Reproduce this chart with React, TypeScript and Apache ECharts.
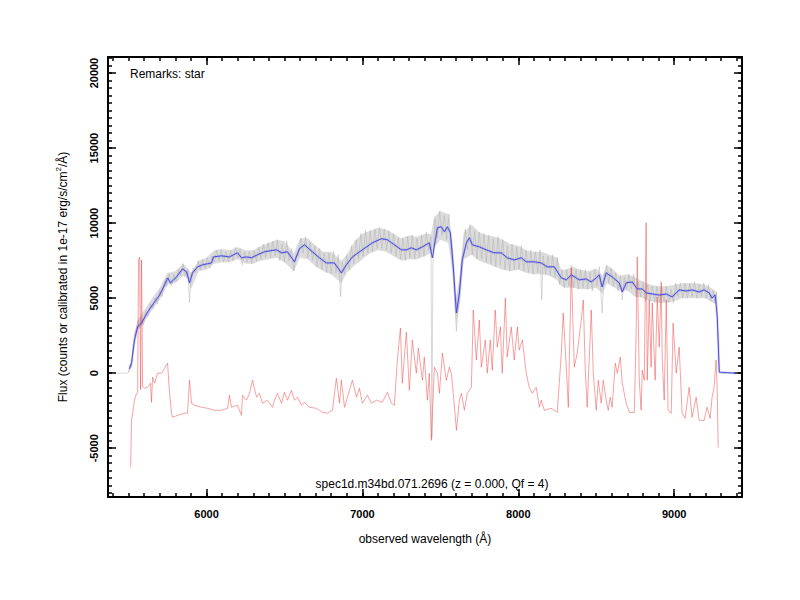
import React, { useEffect, useRef } from "react";
import * as echarts from "echarts";

const FONT = "'Liberation Sans', Arial, Helvetica, sans-serif";

const X_MIN = 5368;
const X_MAX = 9435;
const Y_MIN = -8250;
const Y_MAX = 21070;

const X_MAJOR = [6000, 7000, 8000, 9000];
const Y_MAJOR = [-5000, 0, 5000, 10000, 15000, 20000];
const X_MINOR_STEP = 100;
const Y_MINOR_STEP = 500;

const TITLE_TEXT = "spec1d.m34bd.071.2696 (z = 0.000, Qf = 4)";
const REMARK_TEXT = "Remarks: star";
const X_NAME = "observed wavelength (Å)";
const Y_NAME = "Flux (counts or calibrated in 1e-17 erg/s/cm{sup|2}/{ang|Å})";

// raw spectrum (gray, noisy)
const RAW_SPECTRUM: [number, number][] = [
  [5420,0],[5495,0],[5502,150],[5510,600],[5520,450],[5530,1900],[5540,2700],[5550,2900],[5560,3500],[5570,3000],
  [5580,3700],[5595,3200],[5610,4100],[5625,3800],[5640,4600],[5655,4300],[5670,5000],[5685,4600],[5700,5500],[5715,5100],
  [5730,6100],[5745,5800],[5760,6600],[5775,5800],[5790,6600],[5805,6100],[5820,6900],[5835,6500],[5850,7300],[5865,6500],
  [5880,6900],[5891,4700],[5900,6300],[5915,7000],[5930,6700],[5945,7500],[5960,6900],[5975,7600],[5990,7000],[6005,7700],
  [6020,7000],[6035,7800],[6050,7400],[6065,8200],[6080,7500],[6095,8200],[6110,7400],[6125,8100],[6140,7400],[6155,8200],
  [6170,7500],[6185,8400],[6200,7700],[6215,8300],[6230,7200],[6245,8100],[6260,7400],[6275,8100],[6290,7300],[6305,8200],
  [6320,7500],[6335,8400],[6350,7600],[6365,8600],[6380,7700],[6395,8700],[6410,7700],[6425,8800],[6440,7800],[6455,8900],
  [6470,7500],[6485,8600],[6500,7400],[6515,8800],[6530,7500],[6545,8300],[6560,6800],[6575,7900],[6590,7800],[6605,9000],
  [6620,8000],[6635,9100],[6650,7700],[6665,8700],[6680,7500],[6695,8500],[6710,7100],[6725,8300],[6740,6900],[6755,8000],
  [6770,6700],[6785,8000],[6800,6600],[6815,8100],[6830,6700],[6845,7900],[6860,5100],[6870,7400],[6885,6600],[6900,7900],
  [6915,6900],[6930,8500],[6945,7300],[6960,8900],[6975,7600],[6990,9300],[7005,7800],[7020,9500],[7035,8000],[7050,9500],
  [7065,8100],[7080,9600],[7095,8300],[7110,9700],[7125,8300],[7140,9600],[7155,8200],[7170,9500],[7185,8000],[7200,9300],
  [7215,7800],[7230,9000],[7245,7600],[7260,9000],[7275,7500],[7290,9100],[7305,7700],[7320,9200],[7335,7600],[7350,9000],
  [7365,7700],[7380,9200],[7395,7800],[7410,9400],[7425,8200],[7440,9100],[7446,-4300],[7452,7000],[7465,10300],[7480,9000],
  [7495,10800],[7510,9200],[7525,10500],[7540,8900],[7555,10600],[7570,8700],[7583,7000],[7595,4500],[7603,2800],[7612,4200],
  [7622,5000],[7632,7200],[7645,8200],[7660,9600],[7675,8200],[7690,9900],[7705,7900],[7720,9500],[7735,7600],[7750,9400],
  [7765,7600],[7780,9300],[7795,7400],[7810,9200],[7825,7300],[7840,9000],[7855,7100],[7870,9100],[7885,7200],[7900,8900],
  [7915,6900],[7930,8500],[7945,6800],[7960,8600],[7975,6900],[7990,8400],[8005,6900],[8020,8500],[8035,6800],[8050,8200],
  [8065,6700],[8080,8200],[8095,6600],[8110,8100],[8125,6700],[8140,8200],[8150,4900],[8160,7800],[8175,6600],[8190,7800],
  [8205,6500],[8220,7900],[8235,6400],[8250,7700],[8265,5900],[8280,6900],[8295,5700],[8310,6900],[8325,5800],[8340,7200],
  [8355,5700],[8370,6900],[8385,5600],[8400,6900],[8415,5700],[8430,6900],[8445,5600],[8460,6700],[8475,5500],[8490,6900],
  [8505,5800],[8520,7100],[8538,4000],[8550,6500],[8565,7200],[8580,6000],[8595,7000],[8610,5800],[8625,6700],[8640,5500],
  [8655,6500],[8667,4880],[8680,6400],[8695,5600],[8710,6600],[8725,5600],[8740,6600],[8755,5100],[8770,6100],[8785,5100],
  [8800,6100],[8815,4800],[8830,5900],[8845,4800],[8860,5800],[8875,4700],[8890,5800],[8905,4700],[8920,5800],[8935,4800],
  [8950,5800],[8965,4700],[8980,5600],[8995,4700],[9010,6000],[9025,5100],[9040,6000],[9055,5000],[9070,6000],[9085,5000],
  [9100,6000],[9115,5100],[9130,6100],[9145,5000],[9160,5900],[9175,5100],[9190,6000],[9205,5000],[9220,5900],[9235,4800],
  [9250,5500],[9262,4700],[9272,5400],[9280,2500],[9289,100],[9300,0],[9400,0]
];

// envelope of the raw spectrum noise: [wavelength, low, high]
const RAW_ENVELOPE: [number, number, number][] = [
  [5500,0,300],[5520,400,900],[5540,2000,2800],[5560,2900,3600],[5600,3400,4200],[5650,4200,5000],[5700,4900,5700],
  [5750,5900,6700],[5800,6000,6800],[5850,6500,7300],[5880,6300,7000],[5900,5600,6700],[5950,6800,7500],[6000,6900,7700],
  [6050,7300,8200],[6100,7400,8300],[6150,7400,8200],[6200,7600,8400],[6250,7300,8200],[6300,7300,8200],[6350,7500,8500],
  [6400,7600,8700],[6450,7700,8900],[6500,7400,8800],[6560,6800,8000],[6600,7700,9000],[6650,7600,9000],[6700,7100,8500],
  [6750,6800,8100],[6800,6600,8100],[6865,6000,7500],[6900,6700,7900],[6950,7200,8800],[7000,7600,9300],[7050,8000,9500],
  [7100,8200,9700],[7150,8100,9600],[7200,7800,9300],[7250,7500,9000],[7300,7600,9200],[7350,7600,9100],[7400,7800,9300],
  [7440,8000,9300],[7460,8400,10400],[7500,8900,10800],[7550,8700,10600],[7580,6500,8500],[7600,3300,5000],[7625,4500,6500],
  [7650,7600,9400],[7700,7900,9900],[7750,7500,9400],[7800,7300,9200],[7850,7100,9100],[7900,6900,8900],[7950,6800,8600],
  [8000,6900,8500],[8050,6700,8200],[8100,6600,8100],[8150,6600,8100],[8200,6500,7900],[8250,6200,7700],[8275,5800,6900],
  [8300,5700,6900],[8350,5700,7100],[8400,5600,6900],[8450,5600,6800],[8500,5700,7000],[8540,5300,6500],[8570,6000,7200],
  [8600,5800,7000],[8650,5500,6500],[8700,5500,6600],[8750,5100,6400],[8800,5000,6100],[8850,4800,5900],[8900,4700,5800],
  [8950,4700,5800],[9000,4800,5900],[9050,5000,6000],[9100,5000,6000],[9150,5000,6000],[9200,5000,5900],[9250,4700,5600],
  [9272,4600,5400],[9282,2000,2600],[9290,0,100]
];

// smoothed spectrum (blue)
const SMOOTH_SPECTRUM: [number, number][] = [
  [5506,300],[5519,700],[5538,2200],[5558,3100],[5583,3340],[5622,4080],[5667,4750],[5699,5210],[5731,5880],[5750,6350],
  [5769,6020],[5808,6420],[5846,6950],[5872,6750],[5891,6020],[5910,6680],[5942,7085],[5974,7220],[6006,7290],[6032,7350],
  [6045,7750],[6096,7820],[6147,7750],[6173,7890],[6199,8020],[6224,7690],[6256,7750],[6288,7690],[6327,7890],[6372,8090],
  [6404,8150],[6449,8220],[6481,8020],[6519,8090],[6564,7420],[6596,8290],[6628,8555],[6679,8090],[6724,7690],[6769,7350],
  [6820,7350],[6865,6680],[6897,7220],[6936,7750],[7000,8220],[7064,8690],[7122,8960],[7160,8890],[7205,8555],[7250,8220],
  [7282,8220],[7314,8355],[7346,8220],[7385,8420],[7429,8690],[7449,7690],[7481,9690],[7506,9760],[7526,9420],[7545,9760],
  [7564,9360],[7583,7085],[7603,4010],[7622,5350],[7641,7550],[7667,8690],[7686,9020],[7705,8555],[7750,8420],[7795,8220],
  [7846,8020],[7891,8020],[7929,7690],[7974,7550],[8019,7690],[8051,7420],[8102,7420],[8147,7350],[8186,7085],[8231,7085],
  [8276,6350],[8308,6220],[8340,6550],[8372,6350],[8391,6220],[8436,6280],[8468,6080],[8500,6350],[8519,6550],[8538,5750],
  [8564,6680],[8602,6420],[8647,6020],[8667,5410],[8692,6020],[8731,6080],[8763,5615],[8795,5615],[8820,5350],[8859,5280],
  [8904,5210],[8949,5280],[8987,5080],[9032,5550],[9077,5480],[9115,5550],[9160,5410],[9192,5550],[9224,5350],[9243,5010],
  [9263,5210],[9276,3740],[9282,2200],[9289,70],[9397,0]
];

// sky spectrum (red)
const SKY_SPECTRUM: [number, number][] = [
  [5513,-6280],[5519,-3140],[5526,-2670],[5538,-1800],[5551,-1340],[5558,-1270],[5564,7550],[5571,7750],[5577,-1100],[5583,7550],
  [5590,-900],[5603,-1000],[5622,-940],[5641,-670],[5647,-1940],[5654,-270],[5667,-670],[5686,0],[5712,0],[5731,330],
  [5750,670],[5763,-1340],[5776,-2670],[5782,-2940],[5814,-2810],[5859,-2670],[5878,-2670],[5891,-470],[5904,-2000],[5923,-2140],
  [5968,-2270],[6006,-2340],[6051,-2470],[6096,-2470],[6135,-2340],[6147,-1470],[6160,-2270],[6199,-2140],[6224,-2810],[6231,-1470],
  [6256,-1800],[6276,-1340],[6295,-470],[6321,-1600],[6340,-1340],[6359,-2000],[6391,-1800],[6423,-2270],[6436,-1800],[6455,-1340],
  [6481,-2000],[6500,-1270],[6519,-1800],[6545,-1140],[6564,-1800],[6583,-1600],[6609,-2140],[6628,-1940],[6660,-2270],[6705,-2340],
  [6744,-2610],[6776,-2670],[6808,-2470],[6833,-330],[6853,-2000],[6865,-470],[6885,-2270],[6917,-1140],[6936,-470],[6962,-1600],
  [6981,-1000],[7000,-2000],[7032,-1470],[7058,-2000],[7090,-1800],[7128,-1940],[7160,-1270],[7186,-2000],[7205,-2140],[7224,870],
  [7244,3010],[7256,-670],[7282,2740],[7301,-1140],[7320,2210],[7346,0],[7359,1670],[7385,-470],[7397,1070],[7417,-1800],
  [7429,0],[7442,-4480],[7462,400],[7481,0],[7494,-1340],[7513,1340],[7538,-470],[7558,400],[7570,0],[7583,-1340],
  [7603,-3810],[7622,-1800],[7635,-1340],[7654,-2470],[7673,-1340],[7699,-940],[7711,4210],[7731,870],[7750,3540],[7763,400],
  [7788,2210],[7801,0],[7820,2210],[7833,200],[7852,4210],[7865,1740],[7885,3080],[7897,0],[7917,5010],[7929,1070],
  [7955,3080],[7974,870],[7994,3080],[8006,1540],[8026,2210],[8051,0],[8070,-940],[8090,-1340],[8115,-940],[8135,-2270],
  [8147,-1800],[8167,-2470],[8211,-2340],[8250,-2610],[8276,1340],[8288,4010],[8308,400],[8321,-2270],[8340,7020],[8359,400],
  [8378,1340],[8404,3540],[8417,4880],[8429,400],[8442,-2270],[8468,4210],[8481,0],[8500,-2470],[8513,-470],[8532,-2000],
  [8545,-470],[8564,-1800],[8577,-2470],[8590,-1600],[8602,-2270],[8622,670],[8635,0],[8654,1070],[8667,-670],[8692,-2000],
  [8712,-2610],[8744,-2610],[8756,2670],[8763,7750],[8776,-470],[8788,-2470],[8795,200],[8808,-470],[8820,10030],[8827,-470],
  [8840,4880],[8852,400],[8859,4680],[8878,-470],[8891,5080],[8904,1740],[8917,6080],[8923,1070],[8936,-1800],[8949,4880],
  [8961,-2470],[8981,-2670],[8993,3340],[9013,0],[9032,1740],[9051,-2670],[9070,-3010],[9096,-940],[9115,-2940],[9141,-1600],
  [9160,-3140],[9192,-3140],[9211,-2270],[9231,-3010],[9243,-1600],[9256,-940],[9269,870],[9276,-1140],[9282,-4950]
];

function steps(from: number, to: number, step: number): number[] {
  const out: number[] = [];
  for (let v = from; v <= to; v += step) out.push(v);
  return out;
}

const X_MINOR = steps(5400, 9400, X_MINOR_STEP);
const Y_MINOR = steps(-8000, 21000, Y_MINOR_STEP);

const labelStyle = { fontFamily: FONT, fontSize: 11, fontWeight: "bold" as const, color: "#000" };

function xAxisDef(position: "top" | "bottom", major: boolean, extra: any = {}) {
  return {
    type: "value",
    position,
    min: X_MIN,
    max: X_MAX,
    splitLine: { show: false },
    axisLine: { show: major, onZero: false, lineStyle: { color: "#000", width: 2 } },
    axisTick: {
      show: true,
      inside: true,
      length: major ? 8 : 4,
      customValues: major ? X_MAJOR : X_MINOR,
      lineStyle: { color: "#000", width: 1.5 },
    },
    axisLabel: { show: false },
    ...extra,
  };
}

function yAxisDef(position: "left" | "right", major: boolean, extra: any = {}) {
  return {
    type: "value",
    position,
    min: Y_MIN,
    max: Y_MAX,
    splitLine: { show: false },
    axisLine: { show: major, onZero: false, lineStyle: { color: "#000", width: 2 } },
    axisTick: {
      show: true,
      inside: true,
      length: major ? 8 : 4,
      customValues: major ? Y_MAJOR : Y_MINOR,
      lineStyle: { color: "#000", width: 1.5 },
    },
    axisLabel: { show: false },
    ...extra,
  };
}

export default function App() {
  const ref = useRef<HTMLDivElement>(null);

  useEffect(() => {
    if (!ref.current) return;
    const chart = echarts.init(ref.current, null, { renderer: "svg" });
    const plain = (v: number) => String(v);
    const option: any = {
      animation: false,
      backgroundColor: "#fff",
      grid: { left: 108, right: 58, top: 57, bottom: 103, containLabel: false },
      xAxis: [
        xAxisDef("bottom", true, {
          axisLabel: { show: true, customValues: X_MAJOR, margin: 11, formatter: plain, ...labelStyle },
          name: X_NAME,
          nameLocation: "middle",
          nameGap: 36,
          nameTextStyle: { fontFamily: FONT, fontSize: 12, color: "#000" },
        }),
        xAxisDef("bottom", false),
        xAxisDef("top", true),
        xAxisDef("top", false),
      ],
      yAxis: [
        yAxisDef("left", true, {
          axisLabel: { show: true, customValues: Y_MAJOR, margin: 9, rotate: 90, formatter: plain, ...labelStyle },
          name: Y_NAME,
          nameLocation: "middle",
          nameRotate: 90,
          nameGap: 36,
          nameTextStyle: {
            fontFamily: FONT,
            fontSize: 12,
            color: "#000",
            lineHeight: 18,
            rich: {
              sup: { fontFamily: FONT, fontSize: 8, color: "#000", verticalAlign: "top", lineHeight: 18 },
              ang: { fontFamily: FONT, fontSize: 12, color: "#000", lineHeight: 18 },
            },
          },
        }),
        yAxisDef("left", false),
        yAxisDef("right", true),
        yAxisDef("right", false),
      ],
      series: [
        {
          name: "rawBand",
          type: "custom",
          xAxisIndex: 0,
          yAxisIndex: 0,
          data: RAW_ENVELOPE,
          encode: { x: 0, y: [1, 2] },
          silent: true,
          clip: true,
          z: 1,
          renderItem: (params: any, api: any) => {
            if (params.dataIndex !== 0) return null;
            const upper = RAW_ENVELOPE.map((d) => api.coord([d[0], d[2]]));
            const lower = RAW_ENVELOPE.slice().reverse().map((d) => api.coord([d[0], d[1]]));
            return {
              type: "polygon",
              shape: { points: upper.concat(lower) },
              style: { fill: "rgba(205,205,205,0.7)", stroke: "none" },
            };
          },
        },
        {
          name: "raw",
          type: "line",
          xAxisIndex: 0,
          yAxisIndex: 0,
          data: RAW_SPECTRUM,
          symbol: "none",
          silent: true,
          lineStyle: { color: "rgba(180,180,180,0.5)", width: 1 },
          z: 2,
        },
        {
          name: "sky",
          type: "line",
          xAxisIndex: 0,
          yAxisIndex: 0,
          data: SKY_SPECTRUM,
          symbol: "none",
          silent: true,
          lineStyle: { color: "rgba(240,70,70,0.5)", width: 1 },
          z: 3,
        },
        {
          name: "smoothHalo",
          type: "line",
          xAxisIndex: 0,
          yAxisIndex: 0,
          data: SMOOTH_SPECTRUM,
          symbol: "none",
          silent: true,
          lineStyle: { color: "rgba(100,100,230,0.22)", width: 2.5 },
          z: 4,
        },
        {
          name: "smooth",
          type: "line",
          xAxisIndex: 0,
          yAxisIndex: 0,
          data: SMOOTH_SPECTRUM,
          symbol: "none",
          silent: true,
          lineStyle: { color: "rgba(65,65,225,0.9)", width: 1 },
          z: 5,
        },
      ],
      graphic: [
        {
          type: "text",
          x: 130,
          y: 74,
          style: {
            text: REMARK_TEXT,
            font: `12px ${FONT}`,
            fill: "#000",
            align: "left",
            verticalAlign: "middle",
          },
        },
        {
          type: "text",
          x: 432,
          y: 484,
          style: {
            text: TITLE_TEXT,
            font: `12px ${FONT}`,
            fill: "#000",
            align: "center",
            verticalAlign: "middle",
          },
        },
      ],
    };
    chart.setOption(option);
    return () => chart.dispose();
  }, []);

  return (
    <div
      ref={ref}
      style={{ position: "fixed", left: 0, top: 0, width: 800, height: 600, background: "#fff" }}
    />
  );
}
